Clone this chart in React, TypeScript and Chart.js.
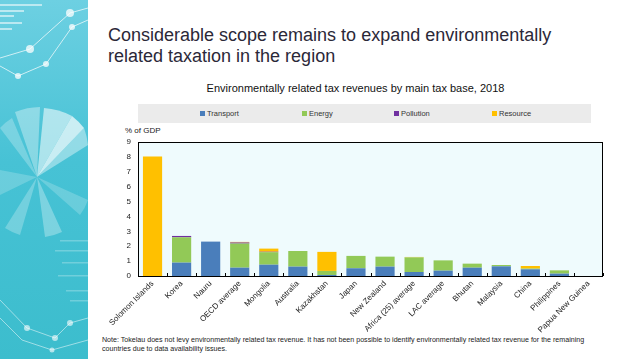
import React, { useEffect, useRef } from "react";
import { Chart, registerables } from "chart.js";

Chart.register(...registerables);

const categories = [
  "Solomon Islands", "Korea", "Nauru", "OECD average", "Mongolia", "Australia",
  "Kazakhstan", "Japan", "New Zealand", "Africa (25) average", "LAC average",
  "Bhutan", "Malaysia", "China", "Philippines", "Papua New Guinea",
];
const transport = [0, 0.9, 2.31, 0.56, 0.76, 0.63, 0.07, 0.52, 0.63, 0.27, 0.36, 0.56, 0.65, 0.45, 0.16, 0];
const energy = [0, 1.7, 0, 1.62, 0.84, 1.05, 0.27, 0.83, 0.67, 0.98, 0.69, 0.27, 0.09, 0.05, 0.22, 0];
const pollution = [0, 0.09, 0, 0.07, 0.03, 0, 0, 0, 0, 0, 0, 0, 0, 0, 0, 0];
const resource = [8.03, 0, 0, 0.04, 0.21, 0, 1.28, 0, 0, 0.03, 0, 0, 0, 0.17, 0, 0];
const seriesNames = ["Transport", "Energy", "Pollution", "Resource"];
const seriesColors = ["#4a7ebb", "#92c957", "#7030a0", "#ffc000"];
const yTicks = [0, 1, 2, 3, 4, 5, 6, 7, 8, 9];

const FONT = "'Liberation Sans', Arial, sans-serif";

const framePlugin = {
  id: "frame",
  beforeDatasetsDraw(chart: any) {
    const { ctx, chartArea: a } = chart;
    ctx.save();
    ctx.fillStyle = "#effbfd";
    ctx.fillRect(a.left, a.top, a.right - a.left, a.bottom - a.top);
    ctx.restore();
  },
  afterDatasetsDraw(chart: any) {
    const { ctx, chartArea: a, scales } = chart;
    ctx.save();
    ctx.strokeStyle = "#000";
    ctx.lineWidth = 1;
    ctx.strokeRect(a.left + 0.5, a.top + 0.5, a.right - a.left - 1, a.bottom - a.top);
    const xs = scales.x;
    ctx.beginPath();
    for (let i = 0; i <= categories.length; i++) {
      const x = Math.round(xs.getPixelForValue(i - 0.5)) + 0.5;
      ctx.moveTo(x, a.bottom);
      ctx.lineTo(x, a.bottom - 3);
    }
    ctx.stroke();
    ctx.restore();
  },
};

function Deco() {
  return (
    <svg width="88" height="359" style={{ position: "absolute", left: 0, top: 0 }}>
      <defs>
        <linearGradient id="bg" x1="0" y1="0" x2="0" y2="1">
          <stop offset="0" stopColor="#6dd0e2" />
          <stop offset="0.45" stopColor="#47c2d5" />
          <stop offset="1" stopColor="#3cbdcd" />
        </linearGradient>
      </defs>
      <rect x="0" y="0" width="88" height="359" fill="url(#bg)" />
      <g fill="#ffffff" opacity="0.55">
        <rect x="0" y="4" width="42" height="2" />
        <rect x="0" y="10" width="24" height="2" />
        <rect x="0" y="15" width="14" height="2" />
        <rect x="0" y="22" width="22" height="2" />
        <rect x="0" y="28" width="12" height="2" />
      </g>
      <g stroke="#ffffff" strokeWidth="1" fill="none" opacity="0.7">
        <polyline points="0,58 30,49 70,13 88,8" />
        <polyline points="0,66 18,76 46,64 72,27 88,20" />
      </g>
      <g fill="#ffffff" opacity="0.75">
        <circle cx="30" cy="49" r="4" />
        <circle cx="70" cy="13" r="4" />
        <circle cx="46" cy="64" r="3" />
        <circle cx="72" cy="27" r="3" />
        <circle cx="18" cy="76" r="3" />
      </g>
      <g fill="#ffffff">
        <path d="M37,177 L44,108 A70,70 0 0 1 72,116 Z" opacity="0.55" />
        <path d="M37,177 L72,116 A70,70 0 0 1 84,128 Z" opacity="0.7" />
        <path d="M37,177 L84,128 A65,65 0 0 1 88,145 Z" opacity="0.4" />
        <path d="M37,177 L15,112 A70,70 0 0 1 40,107 Z" opacity="0.35" />
        <path d="M37,177 L0,128 A60,60 0 0 1 12,118 Z" opacity="0.25" />
        <path d="M37,177 L0,195 A40,40 0 0 1 0,170 Z" opacity="0.2" />
        <path d="M37,177 L20,235 A60,60 0 0 1 5,228 Z" opacity="0.25" />
        <path d="M37,177 L62,232 A60,60 0 0 1 45,237 Z" opacity="0.3" />
        <path d="M37,177 L88,200 A56,56 0 0 1 80,215 Z" opacity="0.2" />
      </g>
      <g fill="#ffffff" opacity="0.25">
        <rect x="60" y="240" width="28" height="1.5" />
        <rect x="55" y="250" width="33" height="1.5" />
        <rect x="62" y="262" width="26" height="1.5" />
        <rect x="58" y="275" width="30" height="1.5" />
        <rect x="66" y="290" width="22" height="1.5" />
        <rect x="70" y="300" width="18" height="1.5" />
      </g>
      <g stroke="#ffffff" strokeWidth="1" fill="none" opacity="0.5">
        <polyline points="0,300 27,328 55,338 70,323 88,318" />
        <polyline points="0,318 22,340 52,350 88,340" />
      </g>
      <g fill="#ffffff" opacity="0.6">
        <circle cx="27" cy="328" r="3" />
        <circle cx="55" cy="338" r="3" />
        <circle cx="70" cy="323" r="3" />
        <circle cx="52" cy="350" r="2.5" />
      </g>
    </svg>
  );
}

export default function App() {
  const ref = useRef<HTMLCanvasElement>(null);
  useEffect(() => {
    const series = [transport, energy, pollution, resource];
    const chart = new Chart(ref.current!, {
      type: "bar",
      data: {
        labels: categories,
        datasets: series.map((d, i) => ({
          label: seriesNames[i],
          data: d,
          backgroundColor: seriesColors[i],
          borderWidth: 0,
          barPercentage: 0.66,
          categoryPercentage: 1,
        })),
      },
      options: {
        animation: false,
        responsive: false,
        maintainAspectRatio: false,
        layout: { padding: { top: 17, right: 35, left: 0, bottom: 0 } },
        plugins: { legend: { display: false }, title: { display: false }, tooltip: { enabled: false } },
        scales: {
          x: {
            stacked: true,
            grid: { display: false, drawTicks: false },
            border: { display: false },
            ticks: {
              autoSkip: false,
              minRotation: 45,
              maxRotation: 45,
              padding: 3,
              color: "#222",
              font: { family: FONT, size: 8 },
            },
            afterFit: (s: any) => { s.height = 59; },
          },
          y: {
            stacked: true,
            min: 0,
            max: 9,
            grid: { display: false, drawTicks: false },
            border: { display: false },
            afterBuildTicks: (s: any) => { s.ticks = yTicks.map((v) => ({ value: v })); },
            ticks: {
              padding: 7,
              color: "#222",
              font: { family: FONT, size: 8 },
            },
            afterFit: (s: any) => { s.width = 38; },
          },
        },
      },
      plugins: [framePlugin],
    });
    return () => chart.destroy();
  }, []);

  const legendX = [200, 302, 394, 492];
  return (
    <div style={{ position: "fixed", left: 0, top: 0, width: 638, height: 359, background: "#fff", overflow: "hidden", fontFamily: FONT }}>
      <Deco />
      <div style={{ position: "absolute", left: 108, top: 25, fontSize: 18, lineHeight: "21px", color: "#2b2838", whiteSpace: "nowrap" }}>
        Considerable scope remains to expand environmentally<br />related taxation in the region
      </div>
      <div style={{ position: "absolute", left: 355.5, top: 82, transform: "translateX(-50%)", fontSize: 11, lineHeight: "13px", color: "#111", whiteSpace: "nowrap" }}>
        Environmentally related tax revenues by main tax base, 2018
      </div>
      <div style={{ position: "absolute", left: 138, top: 104, width: 453, height: 19, background: "#ebebeb" }} />
      {seriesNames.map((n, i) => (
        <div key={n} style={{ position: "absolute", left: legendX[i], top: 108, height: 11, display: "flex", alignItems: "center", fontSize: 7.5, color: "#333", whiteSpace: "nowrap" }}>
          <span style={{ display: "inline-block", width: 5, height: 5, background: seriesColors[i], marginRight: 2 }} />
          {n}
        </div>
      ))}
      <div style={{ position: "absolute", left: 125, top: 126, fontSize: 8, lineHeight: "10px", color: "#222", whiteSpace: "nowrap" }}>% of GDP</div>
      <canvas ref={ref} width={538} height={210} style={{ position: "absolute", left: 100, top: 125, width: 538, height: 210 }} />
      <div style={{ position: "absolute", left: 102, top: 336, fontSize: 7.1, lineHeight: "9px", color: "#222", whiteSpace: "nowrap" }}>
        Note: Tokelau does not levy environmentally related tax revenue. It has not been possible to identify environmentally related tax revenue for the remaining<br />countries due to data availability issues.
      </div>
    </div>
  );
}
